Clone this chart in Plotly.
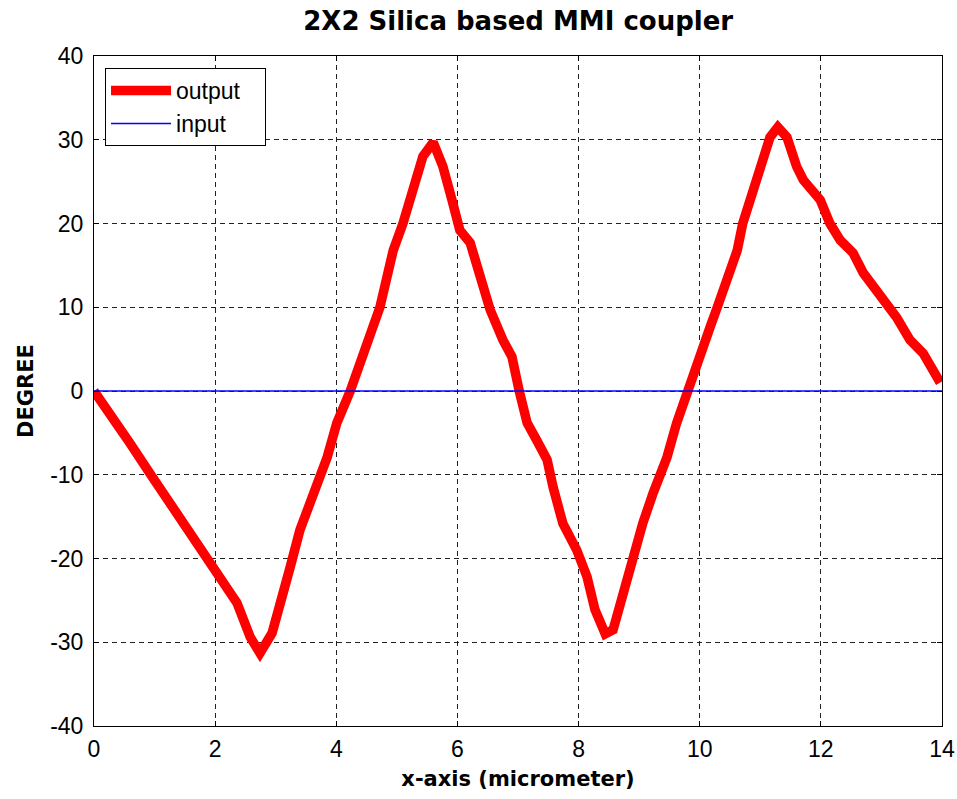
import plotly.graph_objects as go

# Data
out_x = [0.0, 0.38, 0.59, 0.92, 1.14, 1.58, 1.92, 2.2, 2.36, 2.58, 2.74, 2.94, 3.07, 3.24, 3.4,
         3.62, 3.85, 4.01, 4.23, 4.72, 4.94, 5.1, 5.27, 5.43, 5.6, 5.76, 5.91, 6.04, 6.21, 6.37,
         6.54, 6.75, 6.9, 7.02, 7.15, 7.31, 7.48, 7.58, 7.74, 7.97, 8.14, 8.27, 8.44, 8.57, 8.73,
         8.9, 9.06, 9.23, 9.46, 9.62, 9.79, 10.0, 10.17, 10.29, 10.45, 10.62, 10.71, 10.88, 11.05,
         11.16, 11.29, 11.44, 11.6, 11.71, 11.99, 12.15, 12.32, 12.53, 12.7, 13.03, 13.25, 13.47,
         13.69, 13.97]
out_y = [0.0, -4.3, -6.2, -9.8, -12.2, -17.0, -20.4, -23.8, -25.3, -29.4, -31.3, -28.9, -25.8, -21.0, -16.6,
         -12.7, -7.9, -3.8, 0.0, 10.0, 16.8, 20.0, 24.4, 28.0, 29.7, 26.8, 22.8, 19.2, 17.7, 14.1,
         9.7, 6.1, 4.1, 0.0, -3.8, -5.9, -8.2, -11.5, -15.8, -19.0, -22.2, -26.1, -29.0, -28.5, -24.2,
         -19.8, -15.8, -12.2, -7.9, -3.8, 0.0, 4.5, 7.6, 10.0, 13.6, 16.8, 20.0, 23.6, 28.0,
         30.3, 31.5, 30.3, 26.8, 25.2, 22.8, 20.0, 18.0, 16.5, 14.1, 10.9, 8.8, 6.1,
         4.5, 1.0]
in_x = [0.0, 14.0]
in_y = [0.0, 0.0]

x_ticks = [0, 2, 4, 6, 8, 10, 12, 14]
y_ticks = [-40, -30, -20, -10, 0, 10, 20, 30, 40]
series_names = ["output", "input"]

FONT = "Liberation Sans, Arial, sans-serif"
BOLD = "DejaVu Sans, Liberation Sans, sans-serif"
PAD = "\u00a0" * 3

fig = go.Figure()
fig.add_trace(go.Scatter(x=out_x, y=out_y, mode="lines", name=series_names[0] + PAD,
                         line=dict(color="#ff0000", width=9.5)))
fig.add_trace(go.Scatter(x=in_x, y=in_y, mode="lines", name=series_names[1] + PAD,
                         line=dict(color="#0000ff", width=1.5)))

axis_common = dict(
    showline=True, linecolor="black", linewidth=1, mirror="ticks",
    ticks="inside", ticklen=5, tickcolor="black",
    showgrid=True, gridcolor="#222222", gridwidth=1, griddash="5px,4px",
    zeroline=False, automargin=False,
    tickfont=dict(family=FONT, size=23, color="black"),
)

fig.update_layout(
    width=957, height=799,
    paper_bgcolor="white", plot_bgcolor="white",
    margin=dict(l=94, r=15, t=56, b=73),
    title=dict(text="<b>2X2 Silica based MMI coupler</b>", x=0.5415, xanchor="center",
               y=0.974, yanchor="middle",
               font=dict(family=BOLD, size=26, color="black")),
    xaxis=dict(range=[0, 14], tickvals=x_ticks, ticktext=[str(v) for v in x_ticks],
               ticklabelstandoff=2,
               title=dict(text="<b>x-axis (micrometer)</b>", standoff=10,
                          font=dict(family=BOLD, size=21, color="black")),
               **axis_common),
    yaxis=dict(range=[-40, 40], tickvals=y_ticks, ticktext=[str(v) for v in y_ticks],
               ticklabelstandoff=5,
               title=dict(text="<b>DEGREE</b>", standoff=10,
                          font=dict(family=BOLD, size=21, color="black")),
               **axis_common),
    legend=dict(x=0.013, y=0.982, xanchor="left", yanchor="top",
                bgcolor="white", bordercolor="black", borderwidth=1,
                font=dict(family=FONT, size=23, color="black"),
                itemwidth=60, tracegroupgap=0),
    showlegend=True,
)

fig.write_html("out.html")
